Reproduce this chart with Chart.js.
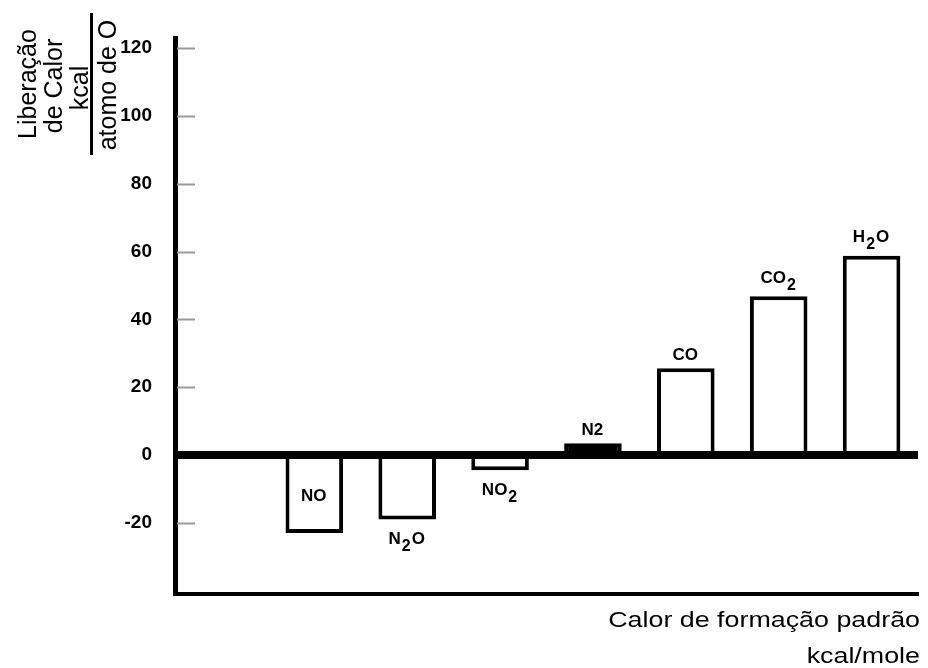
<!DOCTYPE html>
<html>
<head>
<meta charset="utf-8">
<script src="https://cdn.jsdelivr.net/npm/chart.js@4.4.0/dist/chart.umd.min.js"></script>
<style>
body { margin:0; background:#fff; }
</style>
</head>
<body>
<canvas id="myChart" width="928" height="668"></canvas>
<script>
// first slot is empty in the original drawing
const compounds = ['', 'NO', 'N2O', 'NO2', 'N2', 'CO', 'CO2', 'H2O'];
// heat released, kcal per atom of O
const heatRelease = [null, -23, -19, -4.5, 3.5, 25.6, 46.8, 58.8];
const yTicks = [120, 100, 80, 60, 40, 20, 0, -20];

// label styling per bar
const labelPlace = ['', 'inside', 'below', 'below', 'above', 'above', 'above', 'above'];
const subscripted = [false, false, true, true, false, false, true, true];
const barFill = ['#fff', '#fff', '#fff', '#fff', '#000', '#fff', '#fff', '#fff'];

const mainFont = 'bold 17px "Liberation Sans", Arial, sans-serif';
const subFont = 'bold 16px "Liberation Sans", Arial, sans-serif';

// names above / below / inside the bars, digits as subscripts
const barLabels = {
    id: 'barLabels',
    afterDatasetsDraw(chart) {
        const ctx = chart.ctx;
        const meta = chart.getDatasetMeta(0);
        ctx.save();
        ctx.fillStyle = '#000';
        ctx.textBaseline = 'middle';
        ctx.textAlign = 'left';
        meta.data.forEach((bar, i) => {
            const name = compounds[i];
            if (!name) return;
            const parts = subscripted[i] ? name.match(/\d+|\D+/g) : [name];
            let w = 0;
            parts.forEach(p => {
                ctx.font = /\d/.test(p) && subscripted[i] ? subFont : mainFont;
                w += ctx.measureText(p).width + 1;
            });
            let y;
            if (labelPlace[i] === 'inside') y = (bar.y + bar.base) / 2;
            else if (labelPlace[i] === 'below') y = bar.y + 20;
            else y = bar.y - (subscripted[i] ? 18 : 13);
            let x = bar.x - w / 2;
            parts.forEach(p => {
                const isSub = /\d/.test(p) && subscripted[i];
                ctx.font = isSub ? subFont : mainFont;
                ctx.fillText(p, x, isSub ? y + 7 : y);
                x += ctx.measureText(p).width + 1;
            });
        });
        ctx.restore();
    }
};

// short grey tick marks inside the axis + axis titles
const axisExtras = {
    id: 'axisExtras',
    beforeDatasetsDraw(chart) {
        const ctx = chart.ctx;
        const ys = chart.scales.y;
        const left = chart.chartArea.left;
        ctx.save();
        ctx.strokeStyle = '#999';
        ctx.lineWidth = 2;
        yTicks.forEach(v => {
            if (v === 0) return;
            const py = Math.round(ys.getPixelForValue(v)) + 0.5;
            ctx.beginPath();
            ctx.moveTo(left + 2, py);
            ctx.lineTo(left + 20, py);
            ctx.stroke();
        });
        ctx.restore();
    },
    afterDraw(chart) {
        const ctx = chart.ctx;
        ctx.save();
        ctx.fillStyle = '#000';
        // y title, rotated
        ctx.font = '25px "Liberation Sans", Arial, sans-serif';
        ctx.textAlign = 'center';
        ctx.textBaseline = 'alphabetic';
        [['Liberação', 36, 84], ['de Calor', 62, 86], ['kcal', 88, 88], ['atomo de O', 116, 85]].forEach(t => {
            ctx.save();
            ctx.translate(t[1], t[2]);
            ctx.rotate(-Math.PI / 2);
            ctx.fillText(t[0], 0, 0);
            ctx.restore();
        });
        ctx.strokeStyle = '#000';
        ctx.lineWidth = 3;
        ctx.beginPath();
        ctx.moveTo(91.5, 13);
        ctx.lineTo(91.5, 155);
        ctx.stroke();
        // x title, bottom right
        ctx.font = '22px "Liberation Sans", Arial, sans-serif';
        ctx.textAlign = 'right';
        [['Calor de formação padrão', 627], ['kcal/mole', 663]].forEach(t => {
            ctx.save();
            ctx.translate(920, t[1]);
            ctx.scale(1.22, 1);
            ctx.fillText(t[0], 0, 0);
            ctx.restore();
        });
        ctx.restore();
    }
};

const ctx = document.getElementById('myChart').getContext('2d');

const myChart = new Chart(ctx, {
    type: 'bar',
    data: {
        labels: compounds,
        datasets: [{
            data: heatRelease,
            backgroundColor: barFill,
            borderColor: '#000',
            borderWidth: 4,
            barPercentage: 0.62,
            categoryPercentage: 1
        }]
    },
    options: {
        responsive: false,
        animation: false,
        layout: { padding: { top: 38, right: 10, left: 0, bottom: 0 } },
        plugins: {
            legend: { display: false },
            tooltip: { enabled: false }
        },
        scales: {
            x: {
                grid: { display: false },
                ticks: { display: false },
                border: { color: '#000', width: 4 },
                afterFit: s => { s.height = 74; }
            },
            y: {
                min: -41,
                max: 123,
                z: 1,
                afterFit: s => { s.width = 175; },
                afterBuildTicks: s => { s.ticks = yTicks.map(v => ({ value: v })); },
                grid: {
                    drawTicks: false,
                    color: c => c.tick && c.tick.value === 0 ? '#000' : 'rgba(0,0,0,0)',
                    lineWidth: c => c.tick && c.tick.value === 0 ? 8 : 0
                },
                border: { color: '#000', width: 5 },
                ticks: {
                    padding: 23,
                    color: '#000',
                    font: { size: 19, weight: 'bold', family: '"Liberation Sans", Arial, sans-serif' }
                }
            }
        }
    },
    plugins: [barLabels, axisExtras]
});
</script>
</body>
</html>
